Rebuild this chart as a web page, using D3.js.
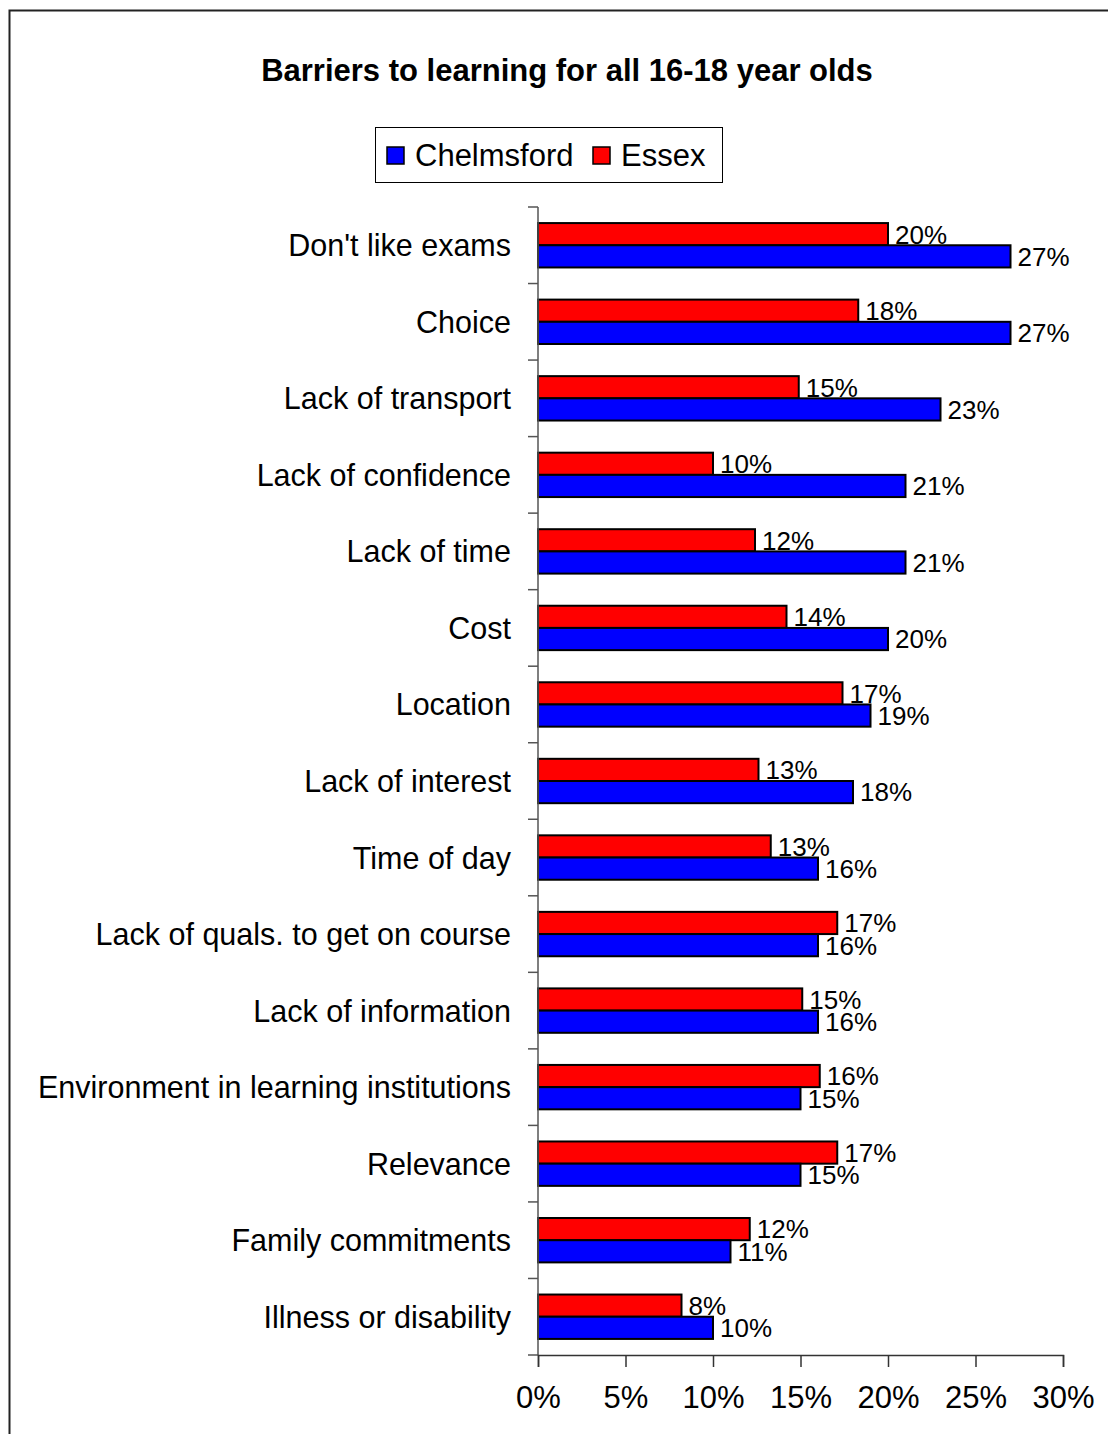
<!DOCTYPE html>
<html>
<head>
<meta charset="utf-8">
<title>Barriers to learning</title>
<script src="https://d3js.org/d3.v7.min.js"></script>
<style>
body { margin: 0; background: #fff; }
text { font-family: Arial, "Liberation Sans", sans-serif; fill: #000; }
.title { font-weight: bold; font-size: 31px; }
.cat { font-size: 30.5px; }
.leg { font-size: 31px; }
.val { font-size: 26px; }
.tick text { font-size: 31px; }
</style>
</head>
<body>
<svg id="chart" width="1108" height="1434"></svg>
<script>

var categories = ["Don't like exams", "Choice", "Lack of transport", "Lack of confidence",
  "Lack of time", "Cost", "Location ", "Lack of interest", "Time of day",
  "Lack of quals. to get on course", "Lack of information",
  "Environment in learning institutions", "Relevance", "Family commitments",
  "Illness or disability"];
var chelmsford = [27, 27, 23, 21, 21, 20, 19, 18, 16, 16, 16, 15, 15, 11, 10];
var essex = [20, 18.3, 14.9, 10, 12.4, 14.2, 17.4, 12.6, 13.3, 17.1, 15.1, 16.1, 17.1, 12.1, 8.2];
var seriesNames = ["Chelmsford", "Essex"];
var seriesColors = ["#0000ff", "#ff0000"];
var xTicks = [0, 5, 10, 15, 20, 25, 30];

var svg = d3.select("#chart");

// outer frame (runs off the right and bottom edge like the original)
svg.append("rect")
  .attr("x", 9.5).attr("y", 10.5)
  .attr("width", 1300).attr("height", 1600)
  .attr("fill", "none").attr("stroke", "#222").attr("stroke-width", 2);

svg.append("text")
  .attr("class", "title")
  .attr("x", 567).attr("y", 81)
  .attr("text-anchor", "middle")
  .text("Barriers to learning for all 16-18 year olds");

// legend
var lg = svg.append("g").attr("transform", "translate(375,127)");
lg.append("rect").attr("x", 0.5).attr("y", 0.5).attr("width", 347).attr("height", 55)
  .attr("fill", "#fff").attr("stroke", "#000").attr("stroke-width", 1);
var legendX = [12, 218];
seriesNames.forEach(function(name, i) {
  lg.append("rect")
    .attr("x", legendX[i]).attr("y", 20).attr("width", 17).attr("height", 17)
    .attr("fill", seriesColors[i]).attr("stroke", "#000").attr("stroke-width", 1.5);
  lg.append("text")
    .attr("class", "leg")
    .attr("x", legendX[i] + 28).attr("y", 39)
    .text(name);
});

var margin = {left: 538, top: 207, right: 1063, bottom: 1355};

var x = d3.scaleLinear().domain([0, 30]).range([margin.left, margin.right]);
var y = d3.scaleBand().domain(categories).range([margin.top, margin.bottom]).paddingInner(0.42).paddingOuter(0.21);
var sub = d3.scaleBand().domain(["Essex", "Chelmsford"]).range([0, y.bandwidth()]);

var rows = svg.append("g").selectAll("g")
  .data(categories)
  .enter().append("g")
    .attr("transform", function(d) { return "translate(0," + y(d) + ")"; });

var bars = [
  {name: "Essex", values: essex, color: seriesColors[1]},
  {name: "Chelmsford", values: chelmsford, color: seriesColors[0]}
];

bars.forEach(function(s) {
  rows.append("rect")
    .attr("x", x(0))
    .attr("y", sub(s.name))
    .attr("width", function(d, i) { return x(s.values[i]) - x(0); })
    .attr("height", sub.bandwidth())
    .attr("fill", s.color)
    .attr("stroke", "#000")
    .attr("stroke-width", 2);

  rows.append("text")
    .attr("class", "val")
    .attr("x", function(d, i) { return x(s.values[i]) + 7; })
    .attr("y", sub(s.name) + sub.bandwidth() / 2)
    .attr("dy", "0.36em")
    .text(function(d, i) { return Math.round(s.values[i]) + "%"; });
});

// category labels
svg.append("g").selectAll("text")
  .data(categories)
  .enter().append("text")
    .attr("class", "cat")
    .attr("x", 511)
    .attr("y", function(d) { return y(d) + y.bandwidth() / 2; })
    .attr("dy", "0.36em")
    .attr("text-anchor", "end")
    .text(function(d) { return d; });

// vertical axis with ticks between categories
var bounds = d3.range(categories.length + 1).map(function(i) { return margin.top + i * (margin.bottom - margin.top) / categories.length; });
var yAxis = svg.append("g");
yAxis.append("line")
  .attr("x1", margin.left).attr("x2", margin.left)
  .attr("y1", margin.top).attr("y2", margin.bottom)
  .attr("stroke", "#555").attr("stroke-width", 1.5);
yAxis.selectAll(".yt").data(bounds).enter().append("line")
  .attr("class", "yt")
  .attr("x1", margin.left - 10).attr("x2", margin.left)
  .attr("y1", function(d) { return d; }).attr("y2", function(d) { return d; })
  .attr("stroke", "#555").attr("stroke-width", 1.5);

// horizontal axis
var xAxis = svg.append("g")
  .attr("transform", "translate(0," + margin.bottom + ")")
  .call(d3.axisBottom(x).tickValues(xTicks).tickSize(12).tickPadding(19)
    .tickFormat(function(d) { return d + "%"; }));
xAxis.select(".domain").attr("stroke", "#333").attr("stroke-width", 1.5);
xAxis.selectAll(".tick line").attr("stroke", "#333").attr("stroke-width", 1.5);
xAxis.selectAll(".tick text").attr("font-family", null).attr("font-size", null).attr("dy", "0.71em");
xAxis.attr("font-family", null).attr("font-size", null);

</script>
</body>
</html>
